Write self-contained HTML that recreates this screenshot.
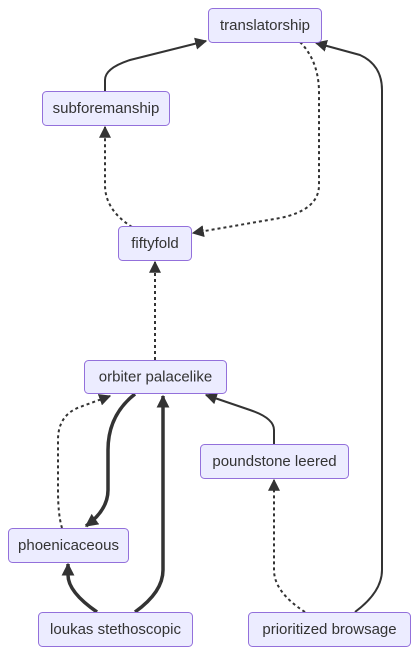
<!DOCTYPE html>
<html><head><style>
body{margin:0;background:#fff;}
svg{display:block}
text{font-family:"Liberation Sans",sans-serif;font-size:15px;fill:#333;text-anchor:middle;dominant-baseline:central}
rect{fill:#ECECFF;stroke:#9370DB;stroke-width:1}
.e{fill:none;stroke:#333;stroke-width:2}
.d{fill:none;stroke:#333;stroke-width:2;stroke-dasharray:3 3}
.t{fill:none;stroke:#333;stroke-width:3.5}
</style></head><body>
<svg width="418" height="654" viewBox="0 0 418 654" xmlns="http://www.w3.org/2000/svg">
<defs>
<marker id="a" viewBox="0 0 10 10" refX="9" refY="5" markerWidth="12" markerHeight="12" markerUnits="userSpaceOnUse" orient="auto"><path d="M0,0L10,5L0,10z" fill="#333"/></marker>
<marker id="b" viewBox="0 0 10 10" refX="9" refY="5" markerWidth="13" markerHeight="13" markerUnits="userSpaceOnUse" orient="auto"><path d="M0,0L10,5L0,10z" fill="#333"/></marker>
</defs>
<path class="e" d="M105,91 L105,80 Q105,68 130,60 L206,41" marker-end="url(#a)"/>
<path class="d" d="M300,42 Q318,60 319,90 L319,185 Q319,210 280,218 L193,233" marker-end="url(#a)"/>
<path class="d" d="M132,227 Q105,210 105,185 L105,127" marker-end="url(#a)"/>
<path class="d" d="M155,360 L155,262" marker-end="url(#a)"/>
<path class="e" d="M274,444 L274,430 Q274,418 250,410 L206,395" marker-end="url(#a)"/>
<path class="t" d="M135,394 Q108,415 108,450 L108,490 Q108,510 86,526" marker-end="url(#b)"/>
<path class="d" d="M62,528 Q58,515 58,490 L58,440 Q58,415 80,407 L110,396" marker-end="url(#a)"/>
<path class="t" d="M97,612 Q68,592 68,575 L68,564" marker-end="url(#b)"/>
<path class="t" d="M135,612 Q163,592 163,570 L163,396" marker-end="url(#b)"/>
<path class="d" d="M305,612 Q274,592 274,570 L274,480" marker-end="url(#a)"/>
<path class="e" d="M355,612 Q382,592 382,570 L382,90 Q382,65 360,55 L316,43" marker-end="url(#a)"/>
<rect x="208.5" y="8.5" width="113" height="34" rx="4"/><text x="265" y="25.5">translatorship</text>
<rect x="42.5" y="91.5" width="127" height="34" rx="4"/><text x="106" y="108.5">subforemanship</text>
<rect x="118.5" y="226.5" width="73" height="34" rx="4"/><text x="155" y="243.5">fiftyfold</text>
<rect x="84.5" y="360.5" width="142" height="33" rx="4"/><text x="155.5" y="377">orbiter palacelike</text>
<rect x="200.5" y="444.5" width="148" height="34" rx="4"/><text x="274.5" y="461.5">poundstone leered</text>
<rect x="8.5" y="528.5" width="120" height="34" rx="4"/><text x="68.5" y="545.5">phoenicaceous</text>
<rect x="38.5" y="612.5" width="154" height="34" rx="4"/><text x="115.5" y="629.5">loukas stethoscopic</text>
<rect x="248.5" y="612.5" width="162" height="34" rx="4"/><text x="329.5" y="629.5">prioritized browsage</text>
</svg>
</body></html>
